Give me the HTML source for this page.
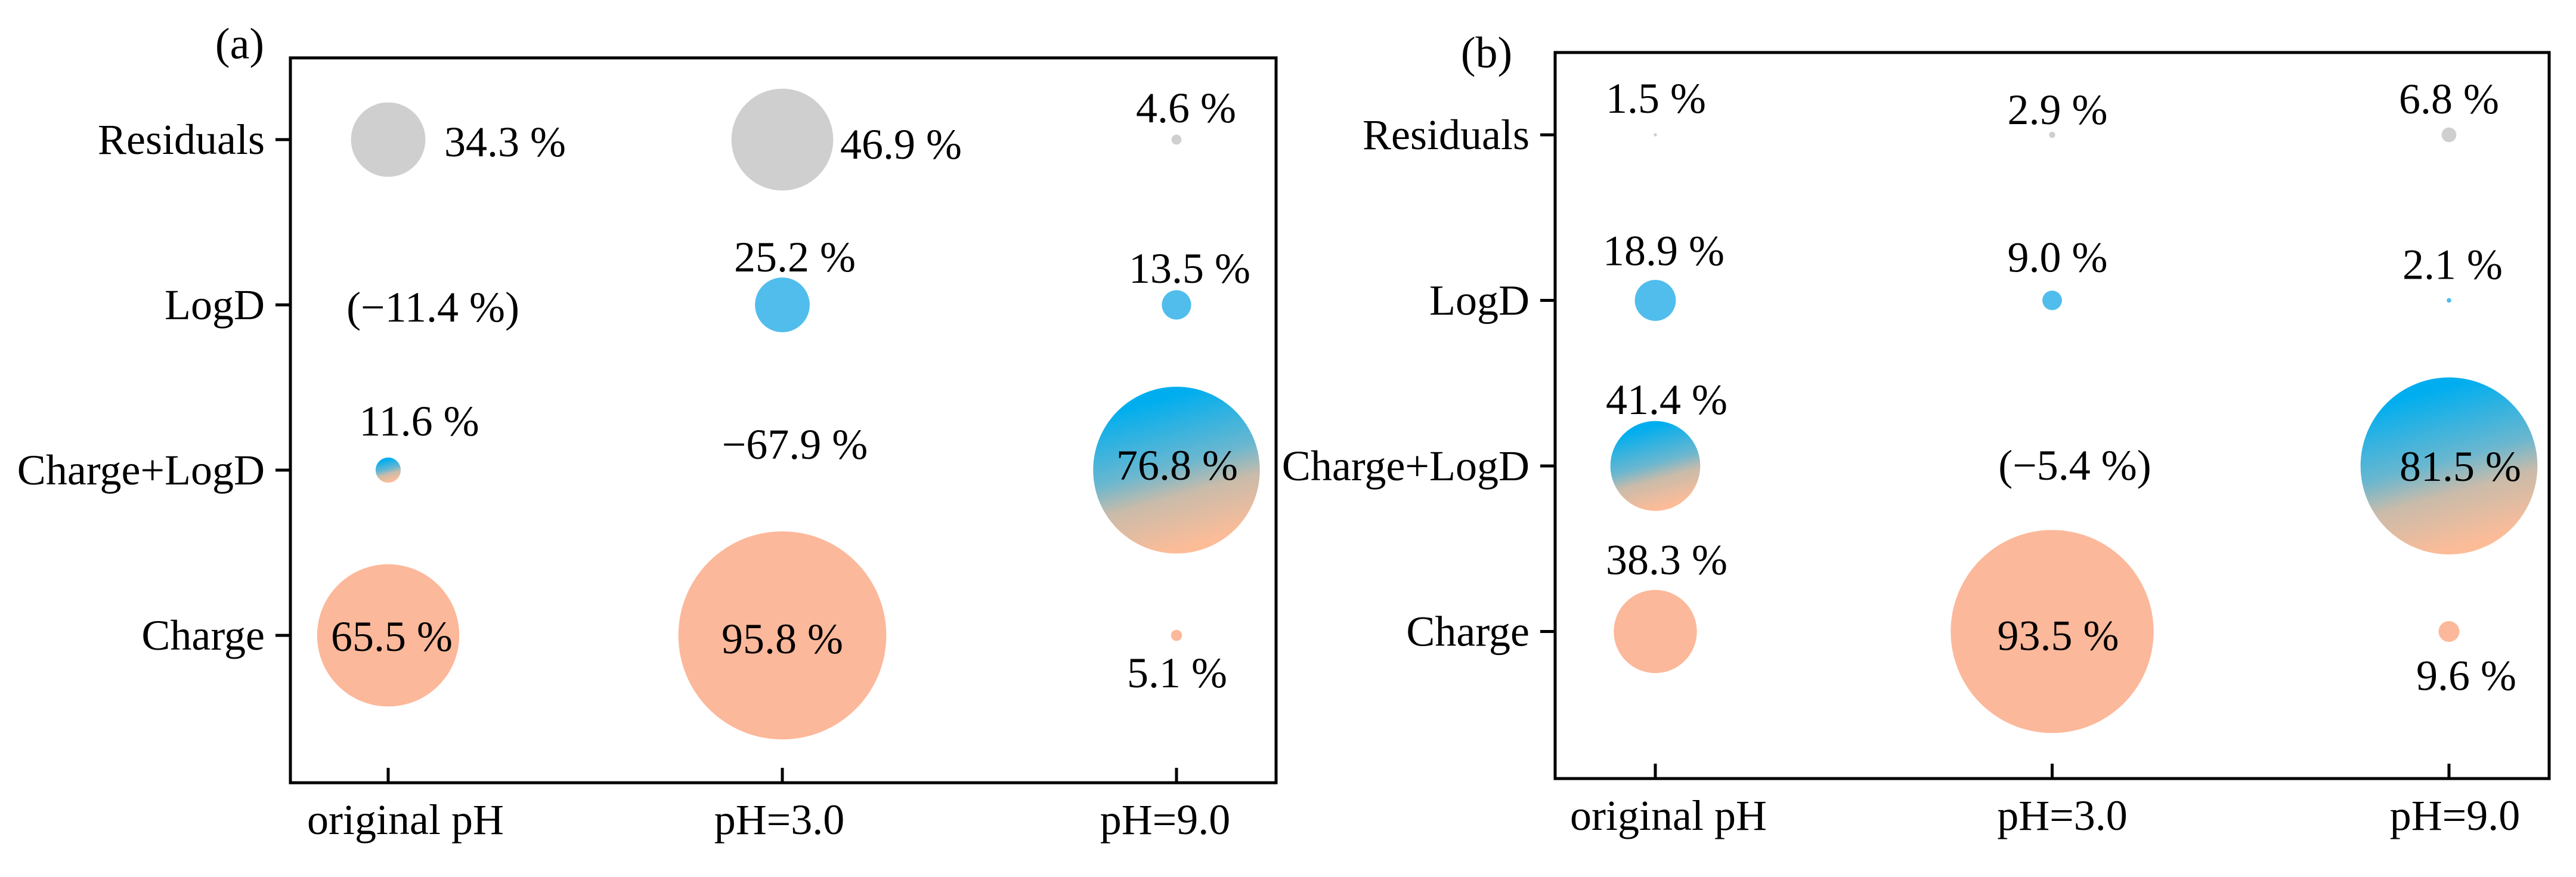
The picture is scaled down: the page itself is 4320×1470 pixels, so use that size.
<!DOCTYPE html>
<html><head><meta charset="utf-8"><style>
html,body{margin:0;padding:0;background:#fff;}
svg{display:block;font-family:"Liberation Serif",serif;}
</style></head><body>
<svg id="chart" width="4320" height="1470" viewBox="0 0 4320 1470" xmlns="http://www.w3.org/2000/svg">
<defs>
<linearGradient id="grad" x1="0.38" y1="0.08" x2="0.62" y2="0.95">
<stop offset="0" stop-color="#00AEEF"/>
<stop offset="0.45" stop-color="#6BB7CF"/>
<stop offset="0.65" stop-color="#C9BBAA"/>
<stop offset="1" stop-color="#FDBC98"/>
</linearGradient>
</defs>
</svg>
<script>
const categories = ["original pH", "pH=3.0", "pH=9.0"];
const rows = ["Residuals", "LogD", "Charge+LogD", "Charge"];
// panel (a) values per row, by category
const aResiduals = [34.3, 46.9, 4.6];
const aLogD = [-11.4, 25.2, 13.5];
const aChargeLogD = [11.6, -67.9, 76.8];
const aCharge = [65.5, 95.8, 5.1];
// panel (b)
const bResiduals = [1.5, 2.9, 6.8];
const bLogD = [18.9, 9.0, 2.1];
const bChargeLogD = [41.4, -5.4, 81.5];
const bCharge = [38.3, 93.5, 9.6];

const NS = "http://www.w3.org/2000/svg";
const svg = document.getElementById("chart");
const colors = ["#CFCFCF", "#50BDEC", "url(#grad)", "#FCB89A"];
const rowKeys = ["residuals", "logd", "charge-logd", "charge"];

function mk(tag, attrs, parent) {
  const e = document.createElementNS(NS, tag);
  for (const k in attrs) e.setAttribute(k, attrs[k]);
  (parent || svg).appendChild(e);
  return e;
}
function label(s) {
  return s < 0 ? "\u2212" + Math.abs(s).toFixed(1) + " %" : s.toFixed(1) + " %";
}

// label placement offsets [dx, dy, anchor] relative to bubble center, per panel/row/col
const aOff = [
  [[94,3,"start"],[97,7,"start"],[16,-54,"middle"]],
  [[75,3,"middle"],[21,-81,"middle"],[22,-62,"middle"]],
  [[52,-83,"middle"],[21,-44,"middle"],[1,-9,"middle"]],
  [[6,1,"middle"],[0,5,"middle"],[1,62,"middle"]]
];
const bOff = [
  [[1,-62,"middle"],[9,-43,"middle"],[0,-61,"middle"]],
  [[14,-84,"middle"],[9,-73,"middle"],[6,-61,"middle"]],
  [[19,-112,"middle"],[38,-2,"middle"],[19,0,"middle"]],
  [[19,-121,"middle"],[10,6,"middle"],[29,73,"middle"]]
];

function panel(p) {
  const g = mk("g", {});
  
  
  const L = p.left, R = p.right, T = p.top, B = p.bottom;
  const colX = i => p.x0 + i * p.dx;
  const rowY = j => p.y0 + j * p.dy;
  const rScale = v => v * 1.82;

  const frame = mk("rect", {x:L, y:T, width:R-L, height:B-T, fill:"none", stroke:"#000", "stroke-width":5}, g);
  
  

  const pl = mk("text", {x:p.labelX, y:p.labelY, "font-size":74, "text-anchor":"middle"}, g);
  pl.textContent = p.title;
  
  

  rows.forEach((r, j) => {
    const y = rowY(j);
    const t = mk("line", {x1:L-25, x2:L, y1:y, y2:y, stroke:"#000", "stroke-width":5}, g);
    
    
    const tl = mk("text", {x:L-43, y:y+24, "font-size":72, "text-anchor":"end"}, g);
    tl.textContent = r;
    
    
  });
  categories.forEach((c, i) => {
    const x = colX(i);
    const t = mk("line", {x1:x, x2:x, y1:B-25, y2:B, stroke:"#000", "stroke-width":5}, g);
    
    
    const tl = mk("text", {x:x + p.xlabOff[i], y:B+86, "font-size":72, "text-anchor":"middle"}, g);
    tl.textContent = c;
    
    
  });
  p.series.forEach((vals, j) => {
    vals.forEach((v, i) => {
      const cx = colX(i), cy = rowY(j);
      if (v > 0) {
        const c = mk("circle", {cx:cx, cy:cy, r:rScale(v), fill:colors[j]}, g);
        
        
      }
      const o = p.off[j][i];
      const txt = (v < 0 && p.paren[j][i]) ? "(" + label(v) + ")" : label(v);
      const tx = mk("text", {x:cx+o[0], y:cy+o[1]+25, "font-size":72, "text-anchor":o[2]}, g);
      tx.textContent = txt;
      
      
    });
  });
}

panel({key:"a", title:"(a)", left:487, right:2140, top:97, bottom:1312,
  x0:651, dx:661, y0:234, dy:277, labelX:402, labelY:98,
  xlabOff:[29,-5,-19],
  series:[aResiduals, aLogD, aChargeLogD, aCharge], off:aOff,
  paren:[[0,0,0],[1,0,0],[0,0,0],[0,0,0]]});
panel({key:"b", title:"(b)", left:2608, right:4275, top:88, bottom:1305,
  x0:2776, dx:665.5, y0:226, dy:277.5, labelX:2493, labelY:113,
  xlabOff:[22,17,10],
  series:[bResiduals, bLogD, bChargeLogD, bCharge], off:bOff,
  paren:[[0,0,0],[0,0,0],[0,1,0],[0,0,0]]});
</script>
</body></html>
